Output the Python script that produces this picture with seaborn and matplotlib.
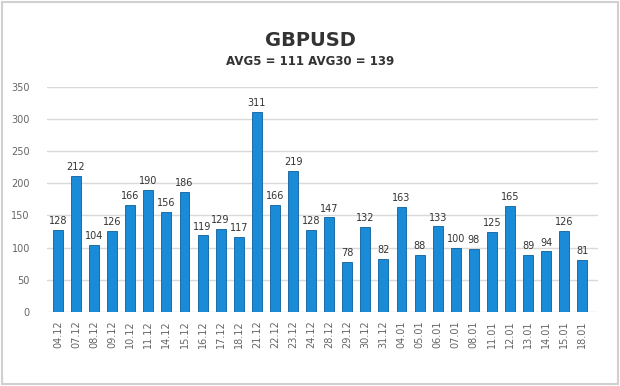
import pandas as pd
import matplotlib.pyplot as plt
import seaborn as sns

# Data
dates = ['04.12', '07.12', '08.12', '09.12', '10.12', '11.12', '14.12', '15.12',
         '16.12', '17.12', '18.12', '21.12', '22.12', '23.12', '24.12', '28.12',
         '29.12', '30.12', '31.12', '04.01', '05.01', '06.01', '07.01', '08.01',
         '11.01', '12.01', '13.01', '14.01', '15.01', '18.01']
values = [128, 212, 104, 126, 166, 190, 156, 186, 119, 129, 117, 311, 166, 219,
          128, 147, 78, 132, 82, 163, 88, 133, 100, 98, 125, 165, 89, 94, 126, 81]
title = 'GBPUSD'
subtitle = 'AVG5 = 111 AVG30 = 139'

df = pd.DataFrame({'date': dates, 'value': values})

sns.set_style('white')
plt.rcParams['font.family'] = ['DejaVu Sans']

fig = plt.figure(figsize=(6.2, 3.86), dpi=100)
ax = fig.add_axes([0.075, 0.192, 0.89, 0.583])

sns.barplot(data=df, x='date', y='value', color='#1a8bd6', width=0.55,
            edgecolor='#0d5f9c', linewidth=0.6, saturation=1, ax=ax)

for i, v in enumerate(values):
    ax.text(i, v + 6, str(v), ha='center', va='bottom', fontsize=7, color='#333333')

ax.set_ylim(0, 350)
ax.set_yticks(range(0, 351, 50))
ax.set_xlim(-0.63, len(values) - 0.12)
ax.yaxis.grid(True, color='#d9d9d9', linewidth=1)
ax.set_axisbelow(True)
for s in ax.spines.values():
    s.set_visible(False)
ax.tick_params(axis='y', labelsize=7, labelcolor='#666666', length=0, pad=12)
ax.tick_params(axis='x', labelsize=7, labelcolor='#666666', length=0, rotation=90, pad=6)
ax.set_xlabel('')
ax.set_ylabel('')

fig.text(0.5, 0.895, title, ha='center', va='center', fontsize=14, fontweight='bold', color='#333333')
fig.text(0.5, 0.84, subtitle, ha='center', va='center', fontsize=8.5, fontweight='bold', color='#333333')

# light frame around the figure
fig.patches.append(plt.Rectangle((0.003, 0.004), 0.994, 0.992, transform=fig.transFigure,
                                 fill=False, edgecolor='#d0d0d0', linewidth=1.5))

fig.savefig('out.png', dpi=100)
